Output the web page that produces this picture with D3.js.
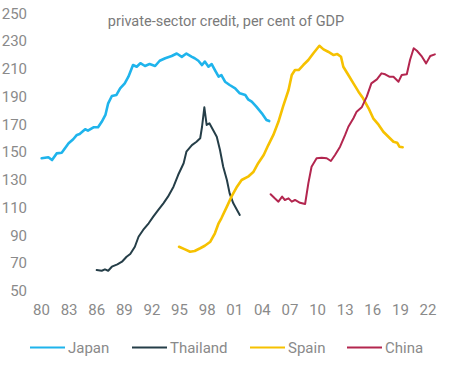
<!DOCTYPE html>
<html><head><meta charset="utf-8">
<script src="https://cdn.jsdelivr.net/npm/d3@7"></script>
<style>body{margin:0;background:#fff;} svg{display:block;}</style>
</head><body>
<svg id="chart" width="449" height="365"></svg>
<script>
const title = "private-sector credit, per cent of GDP";
const seriesNames = ["Japan", "Thailand", "Spain", "China"];
const yTicks = [50,70,90,110,130,150,170,190,210,230,250];
const xTickYears = [1980,1983,1986,1989,1992,1995,1998,2001,2004,2007,2010,2013,2016,2019,2022];
const xTickLabels = ["80","83","86","89","92","95","98","01","04","07","10","13","16","19","22"];

const japanYears = [1980.07,1980.8,1981.2,1981.7,1982.25,1983,1983.5,1983.9,1984.2,1984.8,1985.1,1985.7,1986.2,1986.6,1987,1987.3,1987.7,1988.2,1988.6,1989.1,1989.5,1990,1990.4,1990.8,1991.3,1991.8,1992.4,1992.9,1993.5,1994.2,1994.75,1995.3,1995.8,1996.4,1996.7,1997.1,1997.5,1997.8,1998.2,1998.55,1998.9,1999.3,1999.6,2000,2000.5,2001.1,2001.6,2002.2,2002.5,2002.9,2003.4,2004,2004.5,2004.8];
const japanValues = [145.5,146.2,144.2,149,149.5,156.3,159.2,162.3,163,166.4,165.4,167.8,167.8,171.8,176.7,185.1,190.4,191.1,195.9,199.5,204.3,212.7,211.5,214,212,213.4,212,215.8,217.6,219.2,221,218.6,221,218.6,217.6,215.8,212.7,215.2,211.5,213.4,209.1,204.3,205.5,200.7,198.3,195.9,192.3,191.1,188,186.3,182.7,177.9,173.1,172.3];

const thailandYears = [1986.05,1986.6,1986.95,1987.3,1987.7,1988.3,1988.8,1989.3,1989.7,1990.2,1990.6,1991.1,1991.7,1992.2,1992.75,1993.3,1993.8,1994.4,1994.9,1995.5,1995.8,1996.4,1996.9,1997.3,1997.5,1997.75,1998,1998.3,1998.7,1999.1,1999.45,1999.8,2000.2,2000.5,2000.9,2001.3,2001.6];
const thailandValues = [64.9,64.4,65.4,64.4,67.3,69,70.9,74.5,76.5,81.7,88.9,93.8,98.6,103.4,108.2,113,117.8,125,133.4,141.9,150.2,155,157.4,159.9,168.2,182.2,169.5,170.7,165.9,161,151.4,139.4,129.8,120.2,113,108.2,104.6];

const spainYears = [1995,1995.65,1996.2,1996.7,1997.3,1997.8,1998.4,1998.9,1999.3,1999.6,2000.2,2000.7,2001.3,2001.8,2002.5,2003.1,2003.6,2004.2,2004.7,2005.25,2005.8,2006.3,2006.9,2007.25,2007.6,2008,2008.5,2009.05,2009.6,2010.25,2010.7,2011.2,2011.8,2012.2,2012.6,2012.85,2013.4,2013.95,2014.5,2015,2015.6,2016.1,2016.7,2017.2,2017.75,2018.3,2018.7,2018.95,2019.3];
const spainValues = [81.7,79.8,78.1,78.6,80.6,82.4,85.3,91.4,98.6,102.2,110.6,117.8,125,129.8,132.2,135.8,141.9,147.8,155,162.3,171.8,182.7,194.7,205.5,209.1,209.1,212.7,216.3,221.2,226.6,224,222.3,219.9,220.6,218.7,211.5,205.5,199.5,193.5,188.7,181.5,174.3,169.5,164.6,161,157.4,156.7,153.8,153.4];

const chinaYears = [2004.95,2005.4,2005.8,2006.2,2006.5,2006.9,2007.25,2007.6,2008.15,2008.7,2009.05,2009.4,2009.95,2010.5,2011.05,2011.5,2011.95,2012.5,2013.05,2013.4,2013.95,2014.3,2014.85,2015.4,2015.9,2016.5,2017,2017.4,2017.85,2018.3,2018.85,2019.2,2019.75,2020.1,2020.5,2020.85,2021.4,2021.85,2022.3,2022.8];
const chinaValues = [119.5,116.6,114.2,117.8,115.4,116.6,114.2,115.4,113.4,112.5,127.4,139.4,145.5,145.9,145.5,143.5,147.8,153.8,162.3,168.2,174.3,179.1,182.2,189.9,199.5,202.4,206.7,206,204.3,204.3,200.7,205.5,206,216.3,224.8,223,218.7,213.9,219.2,220.4];

const colors = ["#1fb4ec", "#253e48", "#f6c100", "#b3264f"];
const widths = [2.6, 2, 2.6, 2];

const series = [
  {name: seriesNames[0], years: japanYears, values: japanValues},
  {name: seriesNames[1], years: thailandYears, values: thailandValues},
  {name: seriesNames[2], years: spainYears, values: spainValues},
  {name: seriesNames[3], years: chinaYears, values: chinaValues}
];

const svg = d3.select("#chart");
const x = d3.scaleLinear().domain([1980, 2022]).range([41, 427.5]);
const y = d3.scaleLinear().domain([50, 250]).range([290.7, 13.3]);
const font = "Roboto, 'Noto Sans', sans-serif";

// title
svg.append("text").attr("x", 226).attr("y", 26).attr("text-anchor", "middle")
  .attr("font-family", font).attr("font-size", 14.5).attr("fill", "#7a7a7a").text(title);

// y axis
const yAxis = d3.axisLeft(y).tickValues(yTicks).tickSize(0).tickPadding(0);
const gy = svg.append("g").attr("transform", "translate(27,0)").call(yAxis);
gy.select(".domain").remove();
gy.selectAll("text").attr("font-family", font).attr("font-size", 15).attr("fill", "#8a8a8a");

// x axis
const xAxis = d3.axisBottom(x).tickValues(xTickYears).tickSize(0).tickPadding(0)
  .tickFormat((d, i) => xTickLabels[i]);
const gx = svg.append("g").attr("transform", "translate(0,304)").call(xAxis);
gx.select(".domain").remove();
gx.selectAll("text").attr("font-family", font).attr("font-size", 15).attr("fill", "#8a8a8a");

// lines
const line = d3.line().x(d => x(d[0])).y(d => y(d[1])).curve(d3.curveLinear);
series.forEach((s, i) => {
  const pts = s.years.map((yr, j) => [yr, s.values[j]]);
  svg.append("path").datum(pts).attr("d", line)
    .attr("fill", "none").attr("stroke", colors[i]).attr("stroke-width", widths[i])
    .attr("stroke-linejoin", "round").attr("stroke-linecap", "round");
});

// legend
const legendX = [30, 132, 250, 347];
const lg = svg.append("g");
series.forEach((s, i) => {
  lg.append("line").attr("x1", legendX[i]).attr("x2", legendX[i] + 35)
    .attr("y1", 347.5).attr("y2", 347.5).attr("stroke", colors[i]).attr("stroke-width", 2);
  lg.append("text").attr("x", legendX[i] + 38).attr("y", 353)
    .attr("font-family", font).attr("font-size", 15).attr("fill", "#8a8a8a").text(s.name);
});
</script>
</body></html>
